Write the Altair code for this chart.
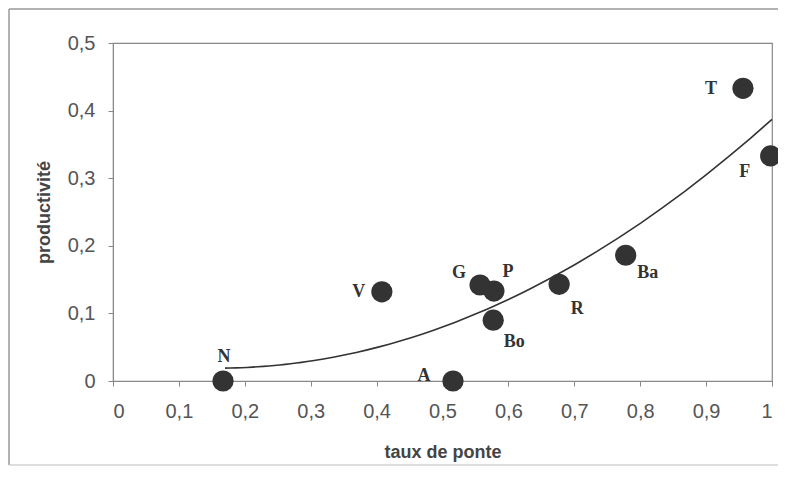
import altair as alt
import pandas as pd

# data
sites = ["N", "A", "V", "G", "P", "Bo", "R", "Ba", "T", "F"]
taux_de_ponte = [0.167, 0.516, 0.408, 0.557, 0.578, 0.577, 0.677, 0.778, 0.956, 0.998]
productivite = [0.0, 0.0, 0.132, 0.142, 0.133, 0.090, 0.143, 0.186, 0.433, 0.333]

x_ticks = [0, 0.1, 0.2, 0.3, 0.4, 0.5, 0.6, 0.7, 0.8, 0.9, 1]
y_ticks = [0, 0.1, 0.2, 0.3, 0.4, 0.5]

df = pd.DataFrame({"site": sites, "x": taux_de_ponte, "y": productivite})

# label placement (style only)
label_offsets = {
    "N": (1, -24), "A": (-29, -5), "V": (-23, 0), "G": (-21, -12),
    "P": (14, -19), "Bo": (21, 22), "R": (18, 25), "Ba": (22, 18),
    "T": (-32, 1), "F": (-26, 16),
}

W, H = 659, 338
ink = "#333333"
axis_col = "#888888"

lab_expr = "replace(toString(datum.value), '.', ',')"

xs = alt.Scale(domain=[0, 1], nice=False)
ys = alt.Scale(domain=[0, 0.5], nice=False)

x_enc = alt.X("x:Q", scale=xs, title="taux de ponte",
              axis=alt.Axis(values=x_ticks, labelExpr=lab_expr, grid=False,
                            tickSize=5, labelPadding=15, titlePadding=22))
y_enc = alt.Y("y:Q", scale=ys, title="productivité",
              axis=alt.Axis(values=y_ticks, labelExpr=lab_expr, grid=False,
                            tickSize=5, labelPadding=13, titlePadding=14))

base = alt.Chart(df)

trend = base.transform_regression(
    "x", "y", method="poly", order=2, extent=[0.17, 1]
).mark_line(color=ink, strokeWidth=1.6).encode(x=x_enc, y=y_enc)

points = base.mark_circle(size=450, color=ink, opacity=1).encode(x="x:Q", y="y:Q")

layers = [trend, points]
for s in sites:
    dx, dy = label_offsets[s]
    layers.append(
        base.transform_filter(alt.datum.site == s)
        .mark_text(font="Liberation Serif", fontWeight="bold", fontSize=18,
                   color=ink, dx=dx, dy=dy, align="center", baseline="middle")
        .encode(x="x:Q", y="y:Q", text="site:N")
    )

# outer chart-area frame (decoration): left, top and bottom edges
frame = alt.Chart(pd.DataFrame({"k": [0]}))
frame_left = frame.mark_rule(color="#999999", strokeWidth=1.5, clip=False).encode(
    x=alt.value(-104), y=alt.value(-34), y2=alt.value(422))
frame_top = frame.mark_rule(color="#999999", strokeWidth=1.5, clip=False).encode(
    x=alt.value(-104), x2=alt.value(665), y=alt.value(-34), y2=alt.value(-34))
frame_bottom = frame.mark_rule(color="#bbbbbb", strokeWidth=1.2, clip=False).encode(
    x=alt.value(-104), x2=alt.value(665), y=alt.value(422), y2=alt.value(422))
layers += [frame_left, frame_top, frame_bottom]

chart = alt.layer(*layers).properties(
    width=W, height=H,
    autosize=alt.AutoSizeParams(type="none"),
    padding={"left": 105, "top": 35, "right": 6, "bottom": 86},
    background="white",
).configure_view(
    stroke=axis_col, strokeWidth=1.2
).configure_axis(
    domainColor=axis_col, tickColor=axis_col,
    labelFont="Liberation Sans", labelFontSize=20, labelColor="#555555",
    titleFont="Liberation Sans", titleFontSize=18, titleFontWeight="bold",
    titleColor="#444444",
)

chart.save("out.html", embed_options={"renderer": "svg", "actions": False})
